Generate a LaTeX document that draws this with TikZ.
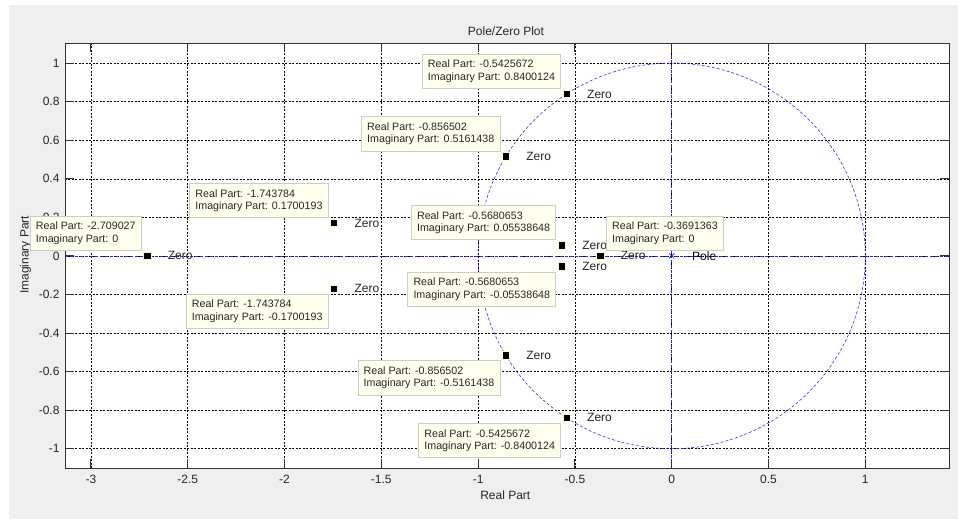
\documentclass[tikz,border=0pt]{standalone}
\usepackage{fontspec}
\setmainfont{Liberation Sans}
\usepackage{tikz}
\usetikzlibrary{positioning,shapes.misc}
\usepackage{xcolor}
\definecolor{figgray}{RGB}{239,239,239}
\definecolor{tipfill}{RGB}{255,255,238}
\definecolor{tipedge}{RGB}{205,205,200}
\definecolor{halo}{RGB}{255,248,200}

\begin{document}
\begin{tikzpicture}[x=193.6pt, y=192.8pt,
    every node/.style={font=\fontsize{12}{14}\selectfont, text=black!85},
    tip/.style={draw=tipedge, fill=tipfill, align=left, line width=0.8pt,
      inner xsep=5.7pt, inner ysep=6pt, font=\fontsize{10.7}{12.4}\selectfont},
    zero/.style={rectangle, fill=black, draw=halo, line width=0.8pt,
      minimum size=7.5pt, inner sep=0pt},
    pole/.style={cross out, draw=blue, line width=0.6pt, minimum size=4.5pt, inner sep=0pt},
    grid line/.style={black, line width=0.5pt, dash pattern=on 2pt off 1.5pt},
    unit line/.style={blue!85, line width=0.55pt, dash pattern=on 3pt off 2pt},
    axis line/.style={black!80, line width=0.9pt}]

        \useasboundingbox (-3.4695,-1.3646) rectangle (1.4788,1.3273);

        % Figure and axes background
        \fill[figgray] (-3.4230,-1.3646) rectangle (1.4788,1.3013);
        \fill[white] (-3.1338,-1.1001) rectangle (1.4323,1.1027);

        % Grid
        \foreach \x in {-3,-2.5,-2,-1.5,-1,-0.5,0,0.5,1}
            \draw[grid line] (\x,-1.1001) -- (\x,1.1027);
        \foreach \y in {-1,-0.8,-0.6,-0.4,-0.2,0,0.2,0.4,0.6,0.8,1}
            \draw[grid line] (-3.1338,\y) -- (1.4323,\y);

        % Unit circle and real / imaginary axes
        \draw[unit line] (0,0) circle[radius=1];
        \draw[unit line] (-3.1338,0) -- (1.4323,0);
        \draw[unit line] (0,-1.1001) -- (0,1.1027);

        % Axes box with ticks
        \draw[axis line] (-3.1338,-1.1001) rectangle (1.4323,1.1027);
        \foreach \x [count=\i] in {-3,-2.5,-2,-1.5,-1,-0.5,0,0.5,1} {
            \draw[axis line] (\x,-1.1001) -- ++(0pt,8.8pt);
            \draw[axis line] (\x,1.1027) -- ++(0pt,-8.8pt);
            \node[anchor=north, yshift=-3.4pt] (xl\i) at (\x,-1.1001) {\x};
        }
        \foreach \y [count=\i] in {-1,-0.8,-0.6,-0.4,-0.2,0,0.2,0.4,0.6,0.8,1} {
            \draw[axis line] (-3.1338,\y) -- ++(8.8pt,0pt);
            \draw[axis line] (1.4323,\y) -- ++(-8.8pt,0pt);
            \node[anchor=east, xshift=-2pt] (yl\i) at (-3.1338,\y) {\y};
        }

        % Titles
        \node (title) at (-0.856,1.1665) {Pole/Zero Plot};
        \node (xlabel) at (-0.8595,-1.2401) {Real Part};
        \node[rotate=90] (ylabel) at (-3.3378,0.005) {Imaginary Part};

        % Zeros
        \node[zero] (z1) at (-0.5425672,0.8400124) {};
        \node[zero] (z2) at (-0.856502,0.5161438) {};
        \node[zero] (z3) at (-1.743784,0.1700193) {};
        \node[zero] (z4) at (-2.709027,0) {};
        \node[zero] (z5) at (-1.743784,-0.1700193) {};
        \node[zero] (z6) at (-0.5680653,0.05538648) {};
        \node[zero] (z7) at (-0.5680653,-0.05538648) {};
        \node[zero] (z8) at (-0.3691363,0) {};
        \node[zero] (z9) at (-0.856502,-0.5161438) {};
        \node[zero] (z10) at (-0.5425672,-0.8400124) {};
        \foreach \i in {1,...,10}
            \node[right=17pt] (zl\i) at (z\i.center) {Zero};

        % Pole
        \node[pole] (p1) at (0,0) {};
        \node[right=17pt, text=black] (pl1) at (p1.center) {Pole};

        % Data tips
        \node[tip, above left=5pt and 5.5pt] (tip1) at (z1.center)
            {Real Part: -0.5425672\\Imaginary Part: 0.8400124};
        \node[tip, above left=5pt and 5.5pt] (tip2) at (z2.center)
            {Real Part: -0.856502\\Imaginary Part: 0.5161438};
        \node[tip, above left=5pt and 5.5pt] (tip3) at (z3.center)
            {Real Part: -1.743784\\Imaginary Part: 0.1700193};
        \node[tip, above left=5pt and 5.5pt] (tip4) at (z4.center)
            {Real Part: -2.709027\\Imaginary Part: 0};
        \node[tip, below left=5pt and 5.5pt] (tip5) at (z5.center)
            {Real Part: -1.743784\\Imaginary Part: -0.1700193};
        \node[tip, above left=5pt and 5.5pt] (tip6) at (z6.center)
            {Real Part: -0.5680653\\Imaginary Part: 0.05538648};
        \node[tip, below left=5pt and 5.5pt] (tip7) at (z7.center)
            {Real Part: -0.5680653\\Imaginary Part: -0.05538648};
        \node[tip, above right=5pt and 5.8pt] (tip8) at (z8.center)
            {Real Part: -0.3691363\\Imaginary Part: 0};
        \node[tip, below left=5pt and 5.5pt] (tip9) at (z9.center)
            {Real Part: -0.856502\\Imaginary Part: -0.5161438};
        \node[tip, below left=5pt and 5.5pt] (tip10) at (z10.center)
            {Real Part: -0.5425672\\Imaginary Part: -0.8400124};
\end{tikzpicture}
\end{document}
